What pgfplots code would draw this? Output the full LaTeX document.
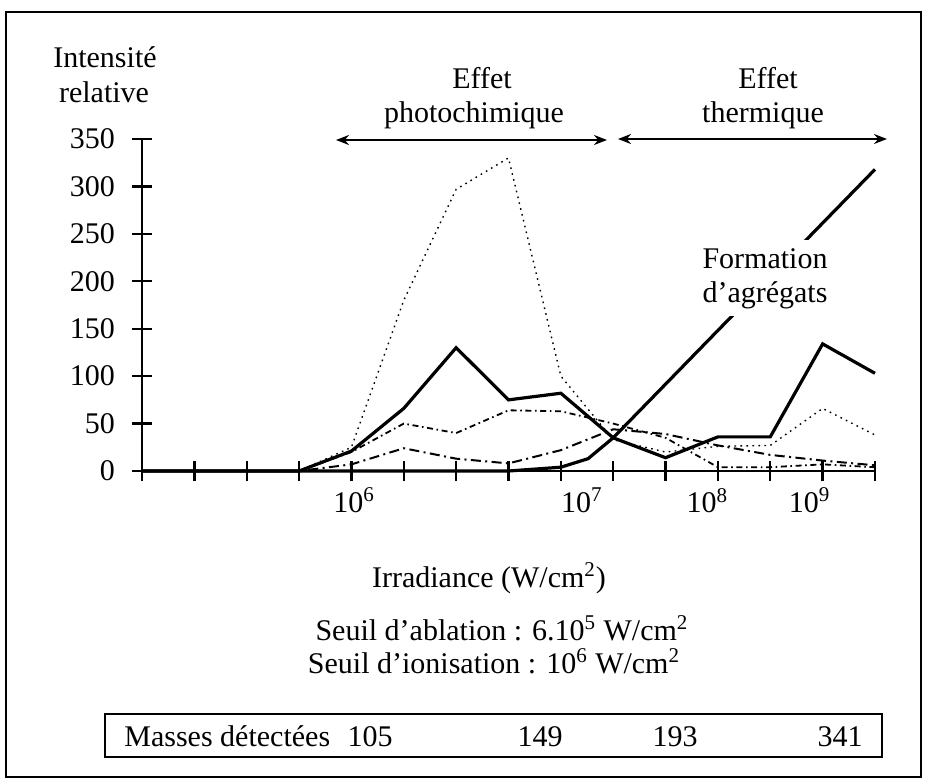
\documentclass[border=0pt]{standalone}
\usepackage{pgfplots}
\pgfplotsset{compat=1.18}
\usepackage{fontspec}
\setmainfont{Liberation Serif}
\usetikzlibrary{arrows.meta}
\newcommand{\fs}{\fontsize{15}{17.5}\selectfont}
\begin{document}
\begin{tikzpicture}[font=\fs]
\begin{scope}[x=0.5pt,y=-0.5pt]
\useasboundingbox (0,0) rectangle (927,782);
\draw[line width=1pt] (6,12) rectangle (921,777);
% y label
\node[anchor=base] at (105,67) {Intensité};
\node[anchor=base] at (104,102) {relative};
% effects
\node[anchor=base] at (482,88) {Effet};
\node[anchor=base] at (474,122) {photochimique};
\node[anchor=base] at (768,88) {Effet};
\node[anchor=base] at (763,122) {thermique};
\draw[line width=1pt,{Stealth[length=6.5pt,width=5pt]}-{Stealth[length=6.5pt,width=5pt]}] (336,140) -- (607,140);
\draw[line width=1pt,{Stealth[length=6.5pt,width=5pt]}-{Stealth[length=6.5pt,width=5pt]}] (618,139) -- (887,139);
% axis label and notes
\node[anchor=base] at (489,587) {Irradiance (W/cm\textsuperscript{2})};
\node[anchor=base,inner sep=0pt] at (502,640) {Seuil d'ablation : 6.10\textsuperscript{5} W/cm\textsuperscript{2}};
\node[anchor=base,inner sep=0pt] at (494,673) {Seuil d'ionisation : 10\textsuperscript{6} W/cm\textsuperscript{2}};
% table
\draw[line width=1pt] (105,714) rectangle (882,757);
\node[anchor=base west,inner sep=0pt] at (124,746) {Masses détectées};
\node[anchor=base] at (370,746) {105};
\node[anchor=base] at (540,746) {149};
\node[anchor=base] at (675,746) {193};
\node[anchor=base] at (840,746) {341};
\end{scope}
\begin{axis}[
  at={(71pt,-235.5pt)}, anchor=south west,
  scale only axis, width=366.5pt, height=166pt,
  xmin=0, xmax=14, ymin=0, ymax=350,
  axis lines=left, axis line style={-, line width=1.4pt},
  xtick={0,...,14}, xticklabels={,,,,,,,,,,,,,,},
  ytick={0,50,...,350},
  tick align=center, major tick length=10pt,
  tick style={line width=1.2pt, black},
  extra x ticks={4.05,8.4,10.8,12.75},
  extra x tick labels={10\textsuperscript{6},10\textsuperscript{7},10\textsuperscript{8},10\textsuperscript{9}},
  extra x tick style={major tick length=0pt},
  xticklabel style={yshift=-5pt},
  /pgf/number format/assume math mode=true,
  ticklabel style={font=\fs},
  yticklabel style={xshift=-5pt},
  clip=false,
]
% A solid
\addplot[black, line width=1.6pt] coordinates {(0,0)(1,0)(2,0)(3,0)(4,21)(5,66)(6,130)(7,75)(8,82)(9,35)(10,14)(11,36)(12,36)(13,134)(14,103)};
% B dotted
\addplot[black, line width=0.7pt, dash pattern=on 0.8pt off 2.2pt] coordinates {(0,0)(1,0)(2,0)(3,0)(4,25)(5,180)(6,297)(7,330)(8,100)(9,33)(10,20)(11,26)(12,27)(13,66)(14,38)};
% C dash-dot fine
\addplot[black, line width=0.9pt, dash pattern=on 3pt off 1.8pt on 0.8pt off 1.8pt] coordinates {(0,0)(1,0)(2,0)(3,0)(4,20)(5,50)(6,40)(7,64)(8,63)(9,50)(10,35)(11,4)(12,4)(13,7)(14,4)};
% D long dash-dot
\addplot[black, line width=1pt, dash pattern=on 5pt off 2.2pt on 1pt off 2.2pt] coordinates {(0,0)(1,0)(2,0)(3,0)(4,7)(5,24)(6,13)(7,8)(8,22)(9,44)(10,39)(11,27)(12,17)(13,11)(14,6)};
% E solid (Formation d'agregats)
\addplot[black, line width=1.6pt] coordinates {(0,0)(7,0)(8,4)(8.52,13)(9,35)(14,318)};
\end{axis}
\begin{scope}[x=0.5pt,y=-0.5pt]
\node[anchor=base,fill=white,inner xsep=2pt,inner ysep=4pt] at (765,302) {d'agrégats};
\node[anchor=base,fill=white,inner xsep=2pt,inner ysep=4pt] at (765,268) {Formation};
\end{scope}
\end{tikzpicture}
\end{document}
